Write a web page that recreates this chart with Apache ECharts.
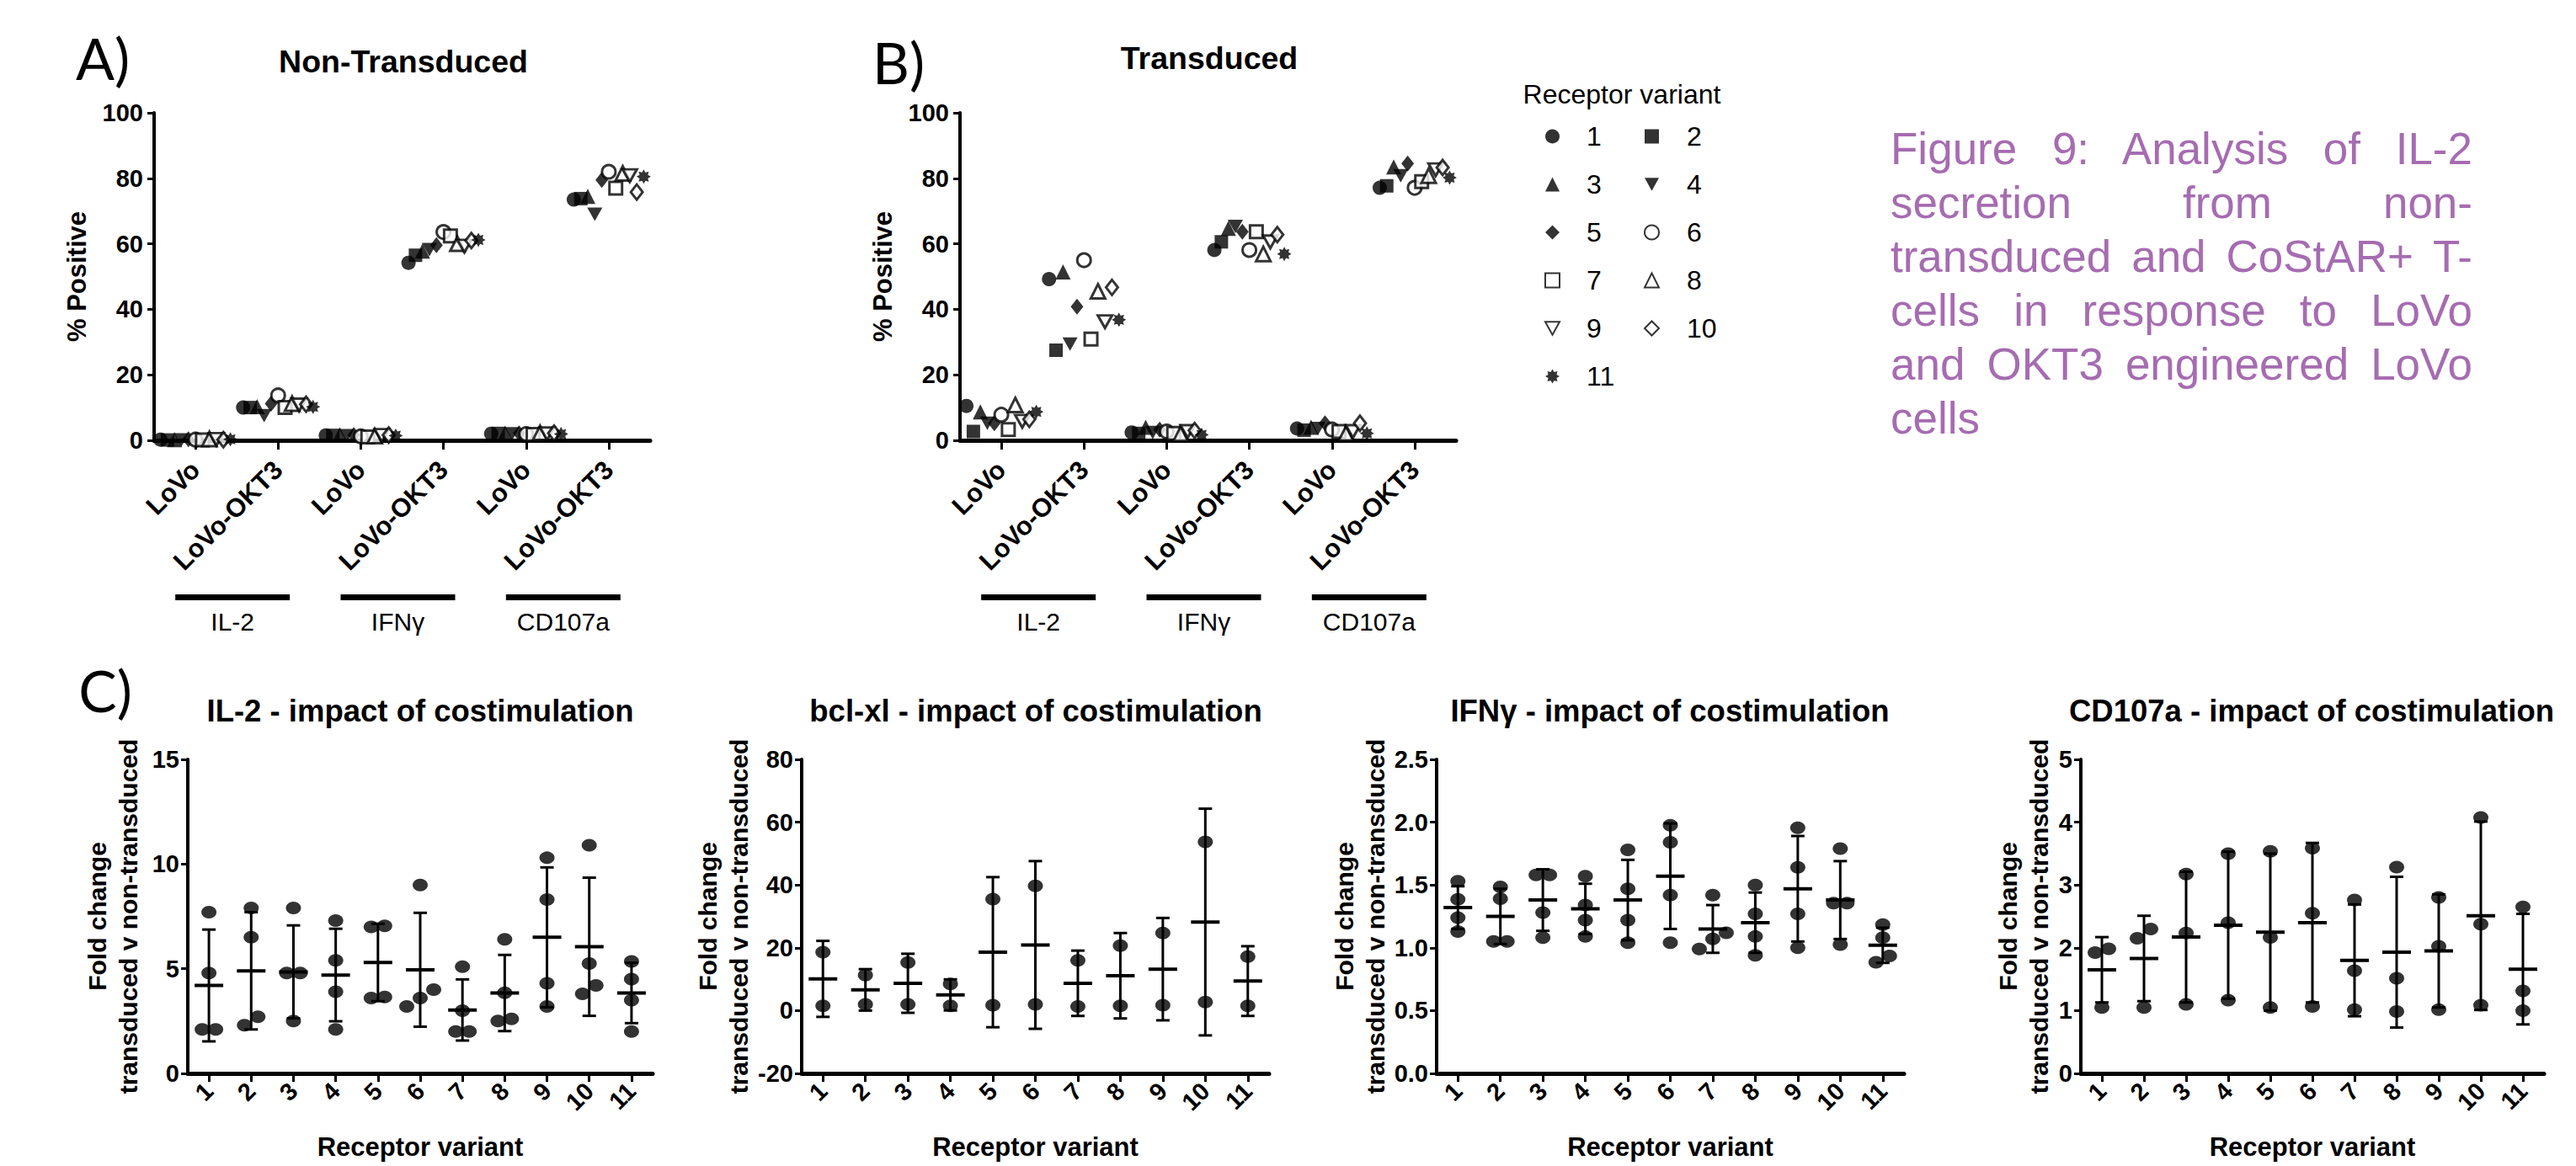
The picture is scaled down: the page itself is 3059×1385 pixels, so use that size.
<!DOCTYPE html>
<html>
<head>
<meta charset="utf-8">
<title>Figure 9</title>
<script src="https://cdn.jsdelivr.net/npm/echarts@6/dist/echarts.min.js"></script>
<style>
    html, body {
        margin: 0;
        padding: 0;
        background: #fff;
        overflow: hidden;
    }

    #chart {
        width: 3059px;
        height: 1385px;
    }

    #caption {
        position: absolute;
        left: 2245px;
        top: 145px;
        width: 691px;
        font-family: 'Liberation Sans', Arial, sans-serif;
        font-size: 53px;
        line-height: 64px;
        color: #a66cb1;
    }

    #caption div {
        white-space: nowrap;
        text-align: justify;
        text-align-last: justify;
    }

    #caption div.last {
        text-align-last: left;
    }
</style>
</head>
<body>
<div id="chart"></div>
<div id="caption">
    <div>Figure 9: Analysis of IL-2</div>
    <div>secretion from non-</div>
    <div>transduced and CoStAR+ T-</div>
    <div>cells in response to LoVo</div>
    <div>and OKT3 engineered LoVo</div>
    <div class="last">cells</div>
</div>
<script>
    var variants = ['1', '2', '3', '4', '5', '6', '7', '8', '9', '10', '11'];
    var cytokines = ['IL-2', 'IFNγ', 'CD107a'];
    var targets = ['LoVo', 'LoVo-OKT3'];

    // A) non-transduced, % positive per receptor variant
    var ntIl2LoVo = [0.2, 0.1, 0.2, 0.1, 0.3, 0.2, 0.1, 0.4, 0.3, 0.2, 0.3];
    var ntIl2Okt3 = [10.0, 10.0, 10.3, 7.5, 11.2, 13.7, 10.0, 11.2, 10.8, 11.0, 10.2];
    var ntIfnLoVo = [1.5, 1.5, 1.7, 1.4, 1.6, 1.2, 1.0, 1.3, 1.5, 1.6, 1.4];
    var ntIfnOkt3 = [54.2, 56.5, 57.8, 58.2, 59.6, 63.6, 62.4, 60.0, 59.3, 61.0, 61.2];
    var ntCdLoVo = [2.0, 2.1, 2.2, 2.0, 2.1, 1.9, 1.8, 2.3, 2.0, 2.2, 1.9];
    var ntCdOkt3 = [73.5, 73.8, 74.5, 69.0, 79.5, 82.0, 77.0, 81.5, 80.8, 75.8, 80.5];

    // B) transduced
    var tdIl2LoVo = [10.5, 2.7, 8.7, 5.2, 5.2, 7.8, 3.3, 10.8, 5.8, 6.4, 8.7];
    var tdIl2Okt3 = [49.2, 27.5, 51.4, 29.4, 40.8, 55.0, 30.9, 45.5, 36.2, 46.7, 36.8];
    var tdIfnLoVo = [2.4, 2.1, 4.0, 2.4, 3.3, 2.7, 2.1, 2.0, 2.7, 3.0, 1.7];
    var tdIfnOkt3 = [58.1, 60.6, 64.7, 65.3, 63.7, 58.1, 63.7, 56.9, 60.6, 62.8, 56.9];
    var tdCdLoVo = [3.6, 3.1, 4.0, 3.6, 5.2, 3.3, 2.7, 2.1, 2.7, 5.2, 2.1];
    var tdCdOkt3 = [77.1, 77.7, 83.5, 80.8, 84.5, 77.1, 79.0, 80.8, 82.6, 83.3, 80.2];

    // C) fold change transduced v non-transduced
    var il2Points = [[7.7, 4.8, 2.1, 2.1], [7.9, 6.5, 2.3, 2.7], [7.9, 4.8, 4.8, 2.5], [7.3, 5.4, 3.9, 2.1],
        [7.05, 7.0, 3.65, 3.6], [9.0, 4.0, 3.6, 3.2], [5.1, 3.0, 2.0, 2.0], [6.4, 3.85, 2.5, 2.6],
        [10.3, 8.3, 4.3, 3.2], [10.9, 5.25, 3.8, 4.2], [5.35, 4.5, 3.5, 2.0]];
    var il2Mean = [4.2, 4.9, 4.85, 4.7, 5.3, 4.95, 3.03, 3.84, 6.5, 6.05, 3.84];
    var il2Sd = [2.67, 2.8, 2.22, 2.21, 1.85, 2.72, 1.46, 1.82, 3.34, 3.3, 1.44];

    var bclPoints = [[18.6, 1.5], [11.3, 2.0], [15.3, 2.0], [8.5, 1.5], [35.5, 1.7], [39.7, 2.0],
        [16.0, 1.3], [20.7, 1.5], [24.7, 1.7], [53.7, 2.7], [17.2, 1.5]];
    var bclMean = [10.1, 6.6, 8.7, 5.0, 18.6, 20.9, 8.7, 11.1, 13.2, 28.2, 9.4];
    var bclSd = [12.1, 6.6, 9.4, 4.95, 23.9, 26.7, 10.4, 13.6, 16.3, 36.1, 11.1];

    var ifnPoints = [[1.53, 1.385, 1.24, 1.13], [1.485, 1.39, 1.05, 1.05], [1.58, 1.58, 1.28, 1.08],
        [1.57, 1.34, 1.22, 1.09], [1.78, 1.47, 1.22, 1.04], [1.975, 1.84, 1.42, 1.04],
        [1.42, 1.12, 1.07, 0.99], [1.50, 1.27, 1.09, 0.94], [1.955, 1.64, 1.27, 1.0],
        [1.79, 1.355, 1.355, 1.025], [1.185, 1.08, 0.935, 0.885]];
    var ifnMean = [1.32, 1.25, 1.38, 1.31, 1.38, 1.57, 1.15, 1.20, 1.47, 1.38, 1.02];
    var ifnSd = [0.17, 0.22, 0.245, 0.20, 0.32, 0.42, 0.19, 0.24, 0.42, 0.31, 0.14];

    var cdPoints = [[1.985, 1.925, 1.05], [2.3, 2.15, 1.05], [3.175, 2.235, 1.1], [3.5, 2.4, 1.165],
        [3.535, 2.165, 1.05], [3.585, 2.55, 1.065], [2.76, 1.635, 1.015], [3.285, 1.515, 0.985],
        [2.8, 2.025, 1.015], [4.075, 2.375, 1.085], [2.65, 1.315, 1.0]];
    var cdMean = [1.65, 1.83, 2.17, 2.36, 2.25, 2.40, 1.80, 1.93, 1.95, 2.51, 1.66];
    var cdSd = [0.52, 0.68, 1.04, 1.17, 1.25, 1.27, 0.89, 1.2, 0.9, 1.5, 0.88];

    var cTitles = ['IL-2 - impact of costimulation', 'bcl-xl - impact of costimulation',
        'IFNγ - impact of costimulation', 'CD107a - impact of costimulation'];
    var cMin = [0, -20, 0, 0];
    var cMax = [15, 80, 2.5, 5];
    var cStep = [5, 20, 0.5, 1];

    var font = "'Liberation Sans', Arial, sans-serif";
    var star = 'path://M20 10L15.8 12.4L17.07 17.07L12.4 15.8L10 20L7.6 15.8L2.93 17.07L4.2 12.4L0 10L4.2 7.6L2.93 2.93L7.6 4.2L10 0L12.4 4.2L17.07 2.93L15.8 7.6Z';
    var down = 'path://M0 0L20 0L10 18Z';
    var shapes = [
        { symbol: 'circle', size: 17, fill: true },
        { symbol: 'rect', size: 16, fill: true },
        { symbol: 'triangle', size: 18, fill: true },
        { symbol: down, size: [18, 16], fill: true },
        { symbol: 'diamond', size: [15, 19], fill: true },
        { symbol: 'circle', size: 16, fill: false },
        { symbol: 'rect', size: 15, fill: false },
        { symbol: 'triangle', size: 17, fill: false },
        { symbol: down, size: [17, 15], fill: false },
        { symbol: 'diamond', size: [14, 18], fill: false },
        { symbol: star, size: 17, fill: true }
    ];

    var abCats = [];
    cytokines.forEach(function (c) {
        targets.forEach(function (t) { abCats.push(c + '|' + t); });
    });
    var ntSets = [ntIl2LoVo, ntIl2Okt3, ntIfnLoVo, ntIfnOkt3, ntCdLoVo, ntCdOkt3];
    var tdSets = [tdIl2LoVo, tdIl2Okt3, tdIfnLoVo, tdIfnOkt3, tdCdLoVo, tdCdOkt3];
    var cPanels = [
        { points: il2Points, mean: il2Mean, sd: il2Sd },
        { points: bclPoints, mean: bclMean, sd: bclSd },
        { points: ifnPoints, mean: ifnMean, sd: ifnSd },
        { points: cdPoints, mean: cdMean, sd: cdSd }
    ];

    var cH = 373;
    var grids = [
        { left: 183, top: 134, width: 589, height: 389, outerBoundsMode: 'none' },
        { left: 1140, top: 134, width: 589, height: 389, outerBoundsMode: 'none' },
        { left: 223, top: 902, width: 552, height: cH, outerBoundsMode: 'none' },
        { left: 952, top: 902, width: 555, height: cH, outerBoundsMode: 'none' },
        { left: 1706, top: 902, width: 555, height: cH, outerBoundsMode: 'none' },
        { left: 2471, top: 902, width: 550, height: cH, outerBoundsMode: 'none' }
    ];
    var cNameGap = [52, 55, 53, 31];

    // spread overlapping dots sideways, like a column scatter
    function swarm(points, span) {
        var out = [];
        points.forEach(function (vals, i) {
            var sorted = vals.slice().sort(function (a, b) { return a - b; });
            var clusters = [];
            sorted.forEach(function (v) {
                var last = clusters[clusters.length - 1];
                if (last && (v - last[last.length - 1]) / span * cH < 14) last.push(v);
                else clusters.push([v]);
            });
            clusters.forEach(function (c) {
                c.forEach(function (v, k) {
                    out.push({ value: [i, v], symbolOffset: [(k - (c.length - 1) / 2) * 16, 0] });
                });
            });
        });
        return out;
    }

    function errorBar(params, api) {
        var i = api.value(0), m = api.value(1), s = api.value(2);
        var mid = api.coord([i, m]);
        var hi = api.coord([i, m + s]);
        var lo = api.coord([i, m - s]);
        var x = mid[0];
        var st = { stroke: '#000', lineWidth: 3 };
        return {
            type: 'group',
            children: [
                { type: 'line', shape: { x1: x, y1: hi[1], x2: x, y2: lo[1] }, style: st },
                { type: 'line', shape: { x1: x - 8, y1: hi[1], x2: x + 8, y2: hi[1] }, style: st },
                { type: 'line', shape: { x1: x - 8, y1: lo[1], x2: x + 8, y2: lo[1] }, style: st },
                { type: 'line', shape: { x1: x - 17, y1: mid[1], x2: x + 17, y2: mid[1] }, style: { stroke: '#000', lineWidth: 4 } }
            ]
        };
    }

    var xAxes = [], yAxes = [], series = [];

    [0, 1].forEach(function (g) {
        xAxes.push({
            type: 'category', gridIndex: g, data: abCats, boundaryGap: true,
            axisLine: { show: true, onZero: false, lineStyle: { color: '#000', width: 5 } },
            axisTick: { show: true, alignWithLabel: true, length: 11, lineStyle: { color: '#000', width: 3 } },
            axisLabel: {
                interval: 0, rotate: 45, margin: 30, color: '#000', fontSize: 31, fontWeight: 'bold', fontFamily: font,
                formatter: function (v) { return v.split('|')[1]; }
            },
            splitLine: { show: false }
        });
        yAxes.push({
            type: 'value', gridIndex: g, min: 0, max: 100, interval: 20,
            axisLine: { show: true, lineStyle: { color: '#000', width: 4 } },
            axisTick: { show: true, length: 8, lineStyle: { color: '#000', width: 3 } },
            axisLabel: { margin: 13, color: '#000', fontSize: 29, fontWeight: 'bold', fontFamily: font },
            splitLine: { show: false },
            name: '% Positive', nameLocation: 'middle', nameGap: 76,
            nameTextStyle: { color: '#000', fontSize: 31, fontWeight: 'bold', fontFamily: font }
        });
        var sets = g === 0 ? ntSets : tdSets;
        variants.forEach(function (name, i) {
            var sh = shapes[i];
            series.push({
                name: name, type: 'scatter', xAxisIndex: g, yAxisIndex: g,
                data: sets.map(function (arr) { return arr[i]; }),
                symbol: sh.symbol, symbolSize: sh.size,
                symbolOffset: [(i - 5) * 8.3, 0],
                itemStyle: sh.fill ? { color: '#000' } : { color: '#fff', borderColor: '#000', borderWidth: 3 },
                clip: false, silent: true
            });
        });
    });

    cPanels.forEach(function (p, k) {
        var g = k + 2;
        xAxes.push({
            type: 'category', gridIndex: g, data: variants, boundaryGap: true,
            axisLine: { show: true, onZero: false, lineStyle: { color: '#000', width: 5 } },
            axisTick: { show: true, alignWithLabel: true, length: 10, lineStyle: { color: '#000', width: 3 } },
            axisLabel: { interval: 0, rotate: 45, margin: 16, color: '#000', fontSize: 29, fontWeight: 'bold', fontFamily: font },
            splitLine: { show: false },
            name: 'Receptor variant', nameLocation: 'middle', nameGap: 72,
            nameTextStyle: { color: '#000', fontSize: 31, fontWeight: 'bold', fontFamily: font }
        });
        yAxes.push({
            type: 'value', gridIndex: g, min: cMin[k], max: cMax[k], interval: cStep[k],
            axisLine: { show: true, lineStyle: { color: '#000', width: 4 } },
            axisTick: { show: true, length: 8, lineStyle: { color: '#000', width: 3 } },
            axisLabel: {
                margin: 10, color: '#000', fontSize: 29, fontWeight: 'bold', fontFamily: font,
                formatter: function (v) { return cStep[k] < 1 ? v.toFixed(1) : String(v); }
            },
            splitLine: { show: false },
            name: 'Fold change\ntransduced v non-transduced', nameLocation: 'middle', nameGap: cNameGap[k],
            nameTextStyle: { color: '#000', fontSize: 30, fontWeight: 'bold', fontFamily: font, lineHeight: 37 }
        });
        series.push({
            type: 'scatter', xAxisIndex: g, yAxisIndex: g,
            data: swarm(p.points, cMax[k] - cMin[k]),
            symbol: 'circle', symbolSize: [18, 15],
            itemStyle: { color: '#000' }, clip: false, silent: true
        });
        series.push({
            type: 'custom', xAxisIndex: g, yAxisIndex: g,
            data: p.mean.map(function (m, i) { return [i, m, p.sd[i]]; }),
            encode: { x: 0, y: 1 }, renderItem: errorBar, clip: false, silent: true, z: 3
        });
    });

    var legendText = { color: '#000', fontSize: 32, fontFamily: font, lineHeight: 36 };
    var chart = echarts.init(document.getElementById('chart'), null, { renderer: 'svg' });
    chart.setOption({
        animation: false,
        backgroundColor: '#fff',
        grid: grids,
        xAxis: xAxes,
        yAxis: yAxes,
        legend: [
            {
                orient: 'vertical', left: 1829, top: 139, itemWidth: 17, itemHeight: 17, itemGap: 21,
                selectedMode: false, data: ['1', '3', '5', '7', '9', '11'],
                textStyle: Object.assign({ padding: [0, 0, 0, 27] }, legendText)
            },
            {
                orient: 'vertical', left: 1947, top: 139, itemWidth: 17, itemHeight: 17, itemGap: 21,
                selectedMode: false, data: ['2', '4', '6', '8', '10'],
                textStyle: Object.assign({ padding: [0, 0, 0, 28] }, legendText)
            }
        ],
        series: series
    });

    function label(text, x, y, size, weight, family) {
        return {
            type: 'text', x: x, y: y, silent: true,
            style: {
                text: text, fill: '#000', fontSize: size, fontWeight: weight || 'normal',
                fontFamily: family || font, align: 'center', verticalAlign: 'middle'
            }
        };
    }

    var graphics = [
        label('A)', 122, 68, 68, 'normal', 'Lato'),
        label('B)', 1067, 73, 68, 'normal', 'Lato'),
        label('C)', 125, 819, 68, 'normal', 'Lato'),
        label('Non-Transduced', 479, 73, 37.5, 'bold'),
        label('Transduced', 1436, 69, 37.5, 'bold'),
        label('Receptor variant', 1926, 112, 32, 'normal')
    ];
    var cTitleX = [499, 1230, 1983, 2745];
    cTitles.forEach(function (t, k) {
        graphics.push(label(t, cTitleX[k], 844, 36.5, 'bold'));
    });

    // cytokine group bars under panels A and B
    [0, 1].forEach(function (g) {
        cytokines.forEach(function (c, j) {
            var x0 = chart.convertToPixel({ xAxisIndex: g }, 2 * j);
            var x1 = chart.convertToPixel({ xAxisIndex: g }, 2 * j + 1);
            var mid = (x0 + x1) / 2 - 5;
            graphics.push({
                type: 'rect', silent: true,
                shape: { x: mid - 68, y: 706, width: 136, height: 7 },
                style: { fill: '#000' }
            });
            graphics.push(label(c, mid, 738, 30, 'normal'));
        });
    });

    chart.setOption({ graphic: graphics });
</script>
</body>
</html>
